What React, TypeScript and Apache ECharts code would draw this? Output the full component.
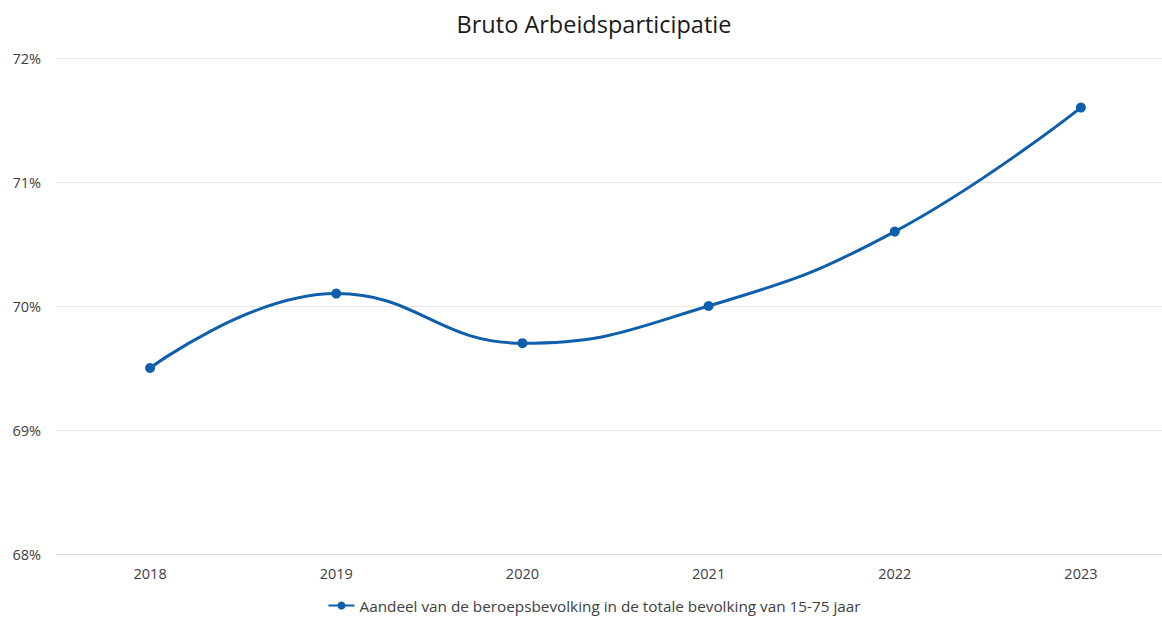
import React, { useEffect, useRef } from "react";
import * as echarts from "echarts";

const categories = ["2018", "2019", "2020", "2021", "2022", "2023"];
const values = [69.5, 70.1, 69.7, 70.0, 70.6, 71.6];
const seriesName = "Aandeel van de beroepsbevolking in de totale bevolking van 15-75 jaar";
const titleText = "Bruto Arbeidsparticipatie";

export default function App() {
  const ref = useRef<HTMLDivElement>(null);
  useEffect(() => {
    const chart = echarts.init(ref.current!, null, { renderer: "svg" });
    const font = "'Open Sans', 'Noto Sans', sans-serif";
    chart.setOption({
      animation: false,
      backgroundColor: "#ffffff",
      title: {
        text: titleText,
        left: "center",
        top: 7,
        textStyle: { fontFamily: font, fontSize: 23.5, fontWeight: "normal", color: "#1a1a1a" },
      },
      legend: {
        bottom: 0,
        left: "center",
        itemWidth: 26,
        itemHeight: 10,
        itemGap: 10,
        textStyle: { fontFamily: font, fontSize: 15.3, color: "#404040" },
        data: [seriesName],
      },
      grid: { left: 57, top: 58, right: 14, height: 496, containLabel: false },
      xAxis: {
        type: "category",
        data: categories,
        boundaryGap: true,
        axisLine: { lineStyle: { color: "#d9d9d9", width: 1 } },
        axisTick: { show: false },
        axisLabel: { fontFamily: font, fontSize: 14.5, color: "#404040", margin: 12 },
      },
      yAxis: {
        type: "value",
        min: 68,
        max: 72,
        interval: 1,
        axisLine: { show: false },
        axisTick: { show: false },
        splitLine: { lineStyle: { color: "#e6e6e6", width: 1 } },
        axisLabel: {
          fontFamily: font,
          fontSize: 14.5,
          color: "#404040",
          margin: 16,
          formatter: (v: number) => `${v}%`,
        },
      },
      series: [
        {
          name: seriesName,
          type: "line",
          data: values,
          smooth: 0.45,
          symbol: "circle",
          symbolSize: 10,
          lineStyle: { color: "#0e5fab", width: 3 },
          itemStyle: { color: "#0e5fab" },
        },
      ],
    });
    return () => chart.dispose();
  }, []);
  return (
    <div style={{ position: "fixed", left: 0, top: 0, width: 1162, height: 618, overflow: "hidden", background: "#fff" }}>
      <div ref={ref} style={{ position: "absolute", left: 0, top: 0, width: 1188, height: 618 }} />
    </div>
  );
}
